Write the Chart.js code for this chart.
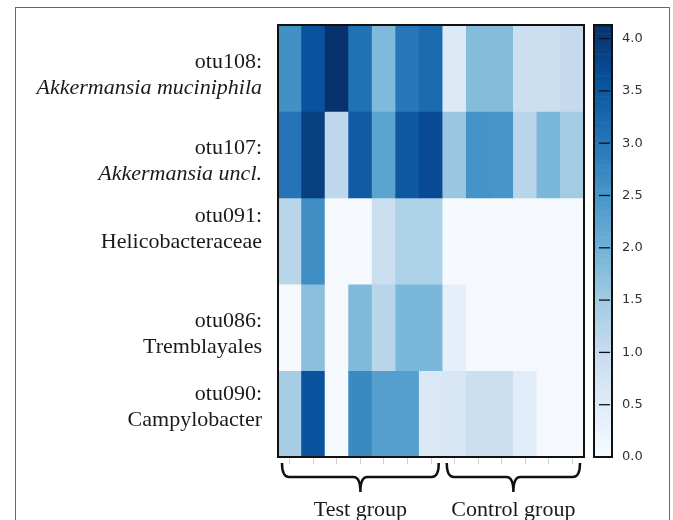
<html lang="en">
<head>
    <meta charset="UTF-8">
    <title>OTU heatmap</title>
    <script src="https://cdn.jsdelivr.net/npm/chart.js"></script>
    <style>
        body { margin: 0; background: #fff; }
        #wrap { width: 673px; height: 520px; }
    </style>
</head>
<body>
<div id="wrap"><canvas id="heatChart" width="673" height="520"></canvas></div>

<script>
    // samples: 7 test, 6 control
    const columns = ['T1', 'T2', 'T3', 'T4', 'T5', 'T6', 'T7', 'C1', 'C2', 'C3', 'C4', 'C5', 'C6'];
    const otuIds = ['otu108:', 'otu107:', 'otu091:', 'otu086:', 'otu090:'];
    const taxa = ['Akkermansia muciniphila', 'Akkermansia uncl.', 'Helicobacteraceae', 'Tremblayales', 'Campylobacter'];
    const taxaItalic = [true, true, false, false, false];

    // values (colour scale 0 - 4.13)
    const otu108 = [2.6, 3.6, 4.1, 3.1, 1.85, 3.0, 3.2, 0.55, 1.8, 1.8, 0.9, 0.9, 1.05];
    const otu107 = [3.05, 3.9, 1.15, 3.45, 2.25, 3.5, 3.7, 1.6, 2.55, 2.5, 1.2, 1.9, 1.5];
    const otu091 = [1.2, 2.65, 0.05, 0.05, 0.95, 1.35, 1.35, 0.05, 0.05, 0.05, 0.05, 0.05, 0.05];
    const otu086 = [0.05, 1.75, 0.05, 1.85, 1.2, 1.9, 1.9, 0.4, 0.05, 0.05, 0.05, 0.05, 0.05];
    const otu090 = [1.45, 3.6, 0.05, 2.7, 2.35, 2.35, 0.6, 0.65, 0.9, 0.9, 0.45, 0.05, 0.05];
    const rows = [otu108, otu107, otu091, otu086, otu090];

    const groups = ['Test group', 'Control group'];
    const groupSizes = [7, 6];
    const colorbarTicks = [0.0, 0.5, 1.0, 1.5, 2.0, 2.5, 3.0, 3.5, 4.0];
    const vMax = 4.13;

    // matplotlib "Blues"
    const blues = ['#f7fbff', '#deebf7', '#c6dbef', '#9ecae1', '#6baed6', '#4292c6', '#2171b5', '#08519c', '#08306b'];

    function hexToRgb(h) {
        return [parseInt(h.substr(1, 2), 16), parseInt(h.substr(3, 2), 16), parseInt(h.substr(5, 2), 16)];
    }

    function colorFor(v) {
        let t = Math.max(0, Math.min(1, v / vMax)) * (blues.length - 1);
        let i = Math.min(Math.floor(t), blues.length - 2);
        let f = t - i;
        let a = hexToRgb(blues[i]), b = hexToRgb(blues[i + 1]);
        let c = a.map((x, k) => Math.round(x + (b[k] - x) * f));
        return 'rgb(' + c.join(',') + ')';
    }

    // one floating bar per cell
    const datasets = rows.map((vals, r) => ({
        label: otuIds[r],
        data: vals.map(() => [r - 0.5, r + 0.5]),
        backgroundColor: vals.map(colorFor),
        borderWidth: 0,
        barPercentage: 1.0,
        categoryPercentage: 1.0,
        grouped: false
    }));

    function drawBrace(ctx, x1, x2, yTop, yMid, yTip) {
        const cx = (x1 + x2) / 2;
        ctx.beginPath();
        ctx.moveTo(x1, yTop);
        ctx.quadraticCurveTo(x1, yMid, x1 + 7, yMid);
        ctx.lineTo(cx - 7, yMid);
        ctx.quadraticCurveTo(cx, yMid, cx, yTip);
        ctx.moveTo(cx, yTip);
        ctx.quadraticCurveTo(cx, yMid, cx + 7, yMid);
        ctx.lineTo(x2 - 7, yMid);
        ctx.quadraticCurveTo(x2, yMid, x2, yTop);
        ctx.stroke();
    }

    const extras = {
        id: 'extras',
        beforeDraw(chart) {
            const ctx = chart.ctx;
            ctx.save();
            ctx.strokeStyle = '#666';
            ctx.lineWidth = 1;
            ctx.strokeRect(15.5, 7.5, 654, 600);
            ctx.restore();
        },
        afterDraw(chart, args, opts) {
            const ctx = chart.ctx;
            const area = chart.chartArea;
            const xs = chart.scales.x, ys = chart.scales.y, cb = chart.scales.cb;
            ctx.save();

            // frame round the heatmap
            ctx.strokeStyle = '#111';
            ctx.lineWidth = 2;
            ctx.strokeRect(area.left, area.top, area.right - area.left, area.bottom - area.top);

            // row labels
            ctx.fillStyle = '#1a1a1a';
            ctx.textAlign = 'right';
            ctx.textBaseline = 'middle';
            otuIds.forEach((id, r) => {
                const y = ys.getPixelForValue(r) + opts.labelShift[r];
                ctx.font = '22px "Liberation Serif", serif';
                ctx.fillText(id, area.left - 16, y - 6);
                ctx.font = (taxaItalic[r] ? 'italic ' : '') + '22px "Liberation Serif", serif';
                ctx.fillText(taxa[r], area.left - 16, y + 20);
            });

            // group braces and names
            const half = (xs.getPixelForValue(1) - xs.getPixelForValue(0)) / 2;
            let start = 0;
            ctx.strokeStyle = '#111';
            ctx.lineWidth = 2.5;
            ctx.textAlign = 'center';
            ctx.textBaseline = 'alphabetic';
            ctx.font = '22px "Liberation Serif", serif';
            groups.forEach((g, k) => {
                const x1 = xs.getPixelForValue(start) - half + 4;
                const x2 = xs.getPixelForValue(start + groupSizes[k] - 1) + half - 4;
                drawBrace(ctx, x1, x2, area.bottom + 6, area.bottom + 20, area.bottom + 35);
                ctx.fillText(g, (x1 + x2) / 2, area.bottom + 59);
                start += groupSizes[k];
            });

            // colour bar
            const bx = area.right + 10, bw = 18;
            const step = 0.05;
            for (let v = 0; v < vMax; v += step) {
                const yb = cb.getPixelForValue(v);
                const yt = cb.getPixelForValue(Math.min(v + step, vMax));
                ctx.fillStyle = colorFor(v + step / 2);
                ctx.fillRect(bx, yt, bw, yb - yt + 0.5);
            }
            ctx.strokeStyle = '#111';
            ctx.lineWidth = 2;
            ctx.strokeRect(bx, cb.getPixelForValue(vMax), bw, cb.getPixelForValue(0) - cb.getPixelForValue(vMax));
            ctx.lineWidth = 1.3;
            colorbarTicks.forEach(v => {
                const y = cb.getPixelForValue(v);
                ctx.beginPath();
                ctx.moveTo(bx + 5, y);
                ctx.lineTo(bx + bw - 2, y);
                ctx.stroke();
            });
            ctx.restore();
        }
    };

    const config = {
        type: 'bar',
        data: { labels: columns, datasets: datasets },
        options: {
            responsive: false,
            animation: false,
            layout: { padding: { top: 25, left: 0, right: 0, bottom: 0 } },
            plugins: {
                legend: { display: false },
                tooltip: { enabled: false },
                extras: { labelShift: [0, 0, -19, 0, -14] }
            },
            scales: {
                x: {
                    type: 'category',
                    offset: true,
                    grid: { offset: false, drawOnChartArea: false, tickLength: 7, color: '#cfcfcf', lineWidth: 1 },
                    border: { display: false },
                    ticks: { display: false },
                    afterFit: s => { s.height = 63; }
                },
                y: {
                    type: 'linear',
                    position: 'left',
                    reverse: true,
                    min: -0.5,
                    max: 4.5,
                    grid: { display: false },
                    border: { display: false },
                    ticks: { display: false },
                    afterFit: s => { s.width = 278; }
                },
                cb: {
                    type: 'linear',
                    position: 'right',
                    min: 0,
                    max: vMax,
                    grid: { display: false, drawTicks: false },
                    border: { display: false },
                    afterBuildTicks: s => { s.ticks = colorbarTicks.map(v => ({ value: v })); },
                    ticks: {
                        padding: 38,
                        color: '#333',
                        font: { family: 'DejaVu Sans', size: 13 },
                        callback: v => v.toFixed(1)
                    },
                    // tick padding would otherwise push the plot area down
                    afterFit: s => { s.width = 89; s.paddingTop = 0; s.paddingBottom = 0; }
                }
            }
        },
        plugins: [extras]
    };

    function initChart() {
        const ctx = document.getElementById('heatChart').getContext('2d');
        new Chart(ctx, config);
    }

    window.onload = initChart;
</script>
</body>
</html>
